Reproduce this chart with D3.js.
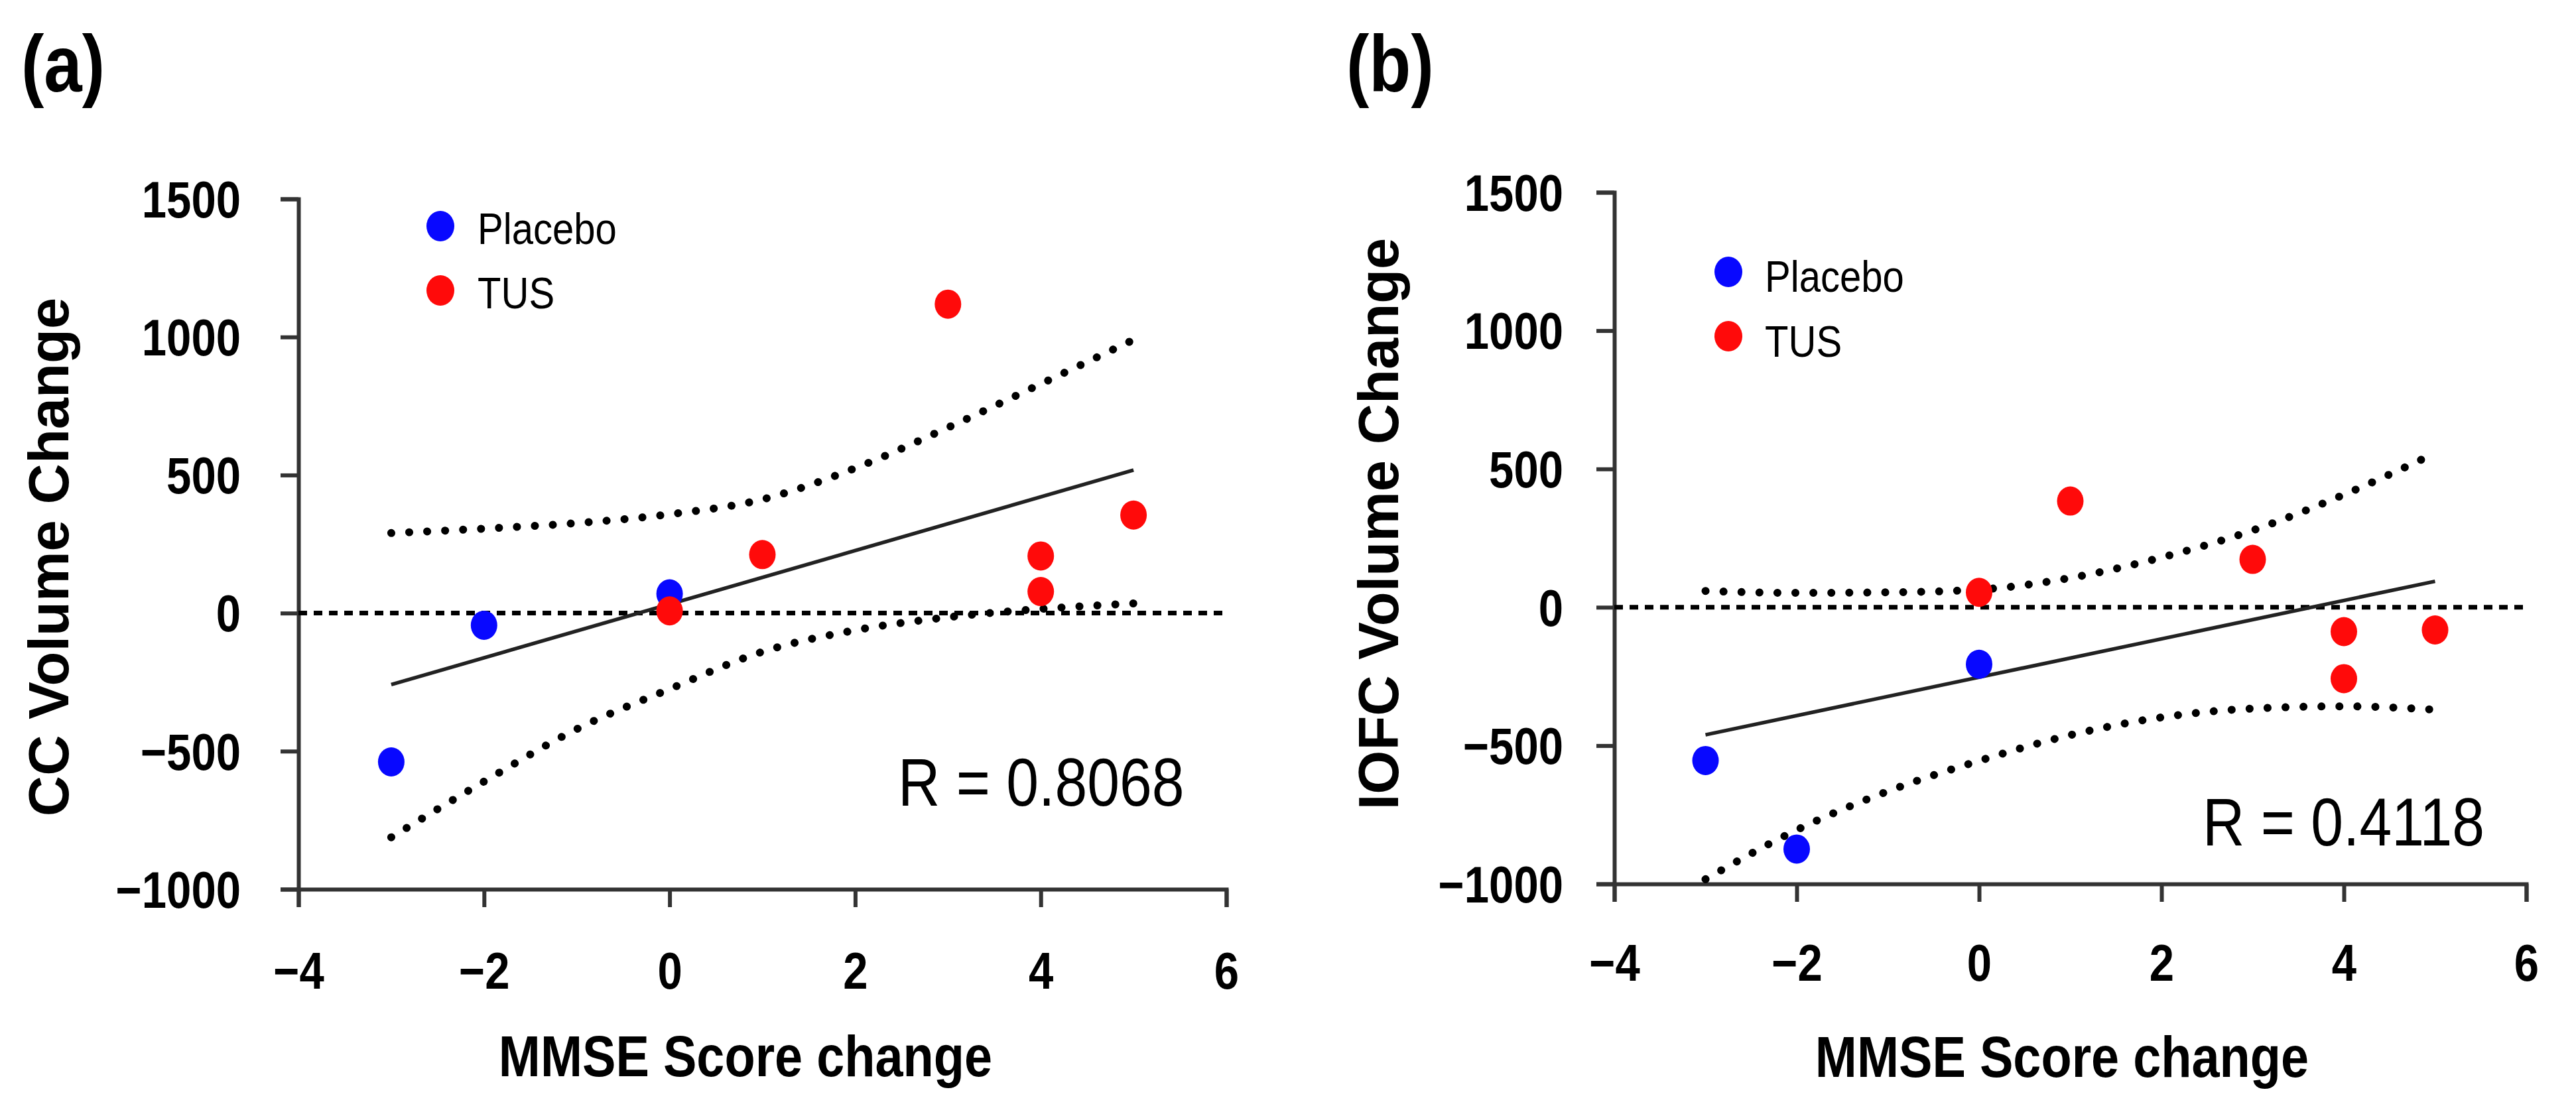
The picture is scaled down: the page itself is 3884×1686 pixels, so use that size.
<!DOCTYPE html>
<html>
<head>
<meta charset="utf-8">
<script src="https://cdn.jsdelivr.net/npm/d3@7"></script>
<style>
  body { margin: 0; background: #fff; }
  svg { display: block; }
</style>
</head>
<body>
<svg id="chart"></svg>
<script>
// shared ticks
const xTicks = [-4, -2, 0, 2, 4, 6];
const yTicks = [-1000, -500, 0, 500, 1000, 1500];
const ciX = [-3, -2, -1, 0, 1, 2, 3, 4, 5];
const groups = ['Placebo', 'TUS'];

// panel (a) CC volume
const placeboA = [[-3, -539], [-2, -44], [0, 70]];
const tusA = [[0, 8], [1, 212], [3, 1119], [4, 207], [4, 78], [5, 355]];
const fitA = [[-3, -259], [5, 518]];
const upperA = [290, 306, 326, 358, 412, 525, 672, 830, 990];
const lowerA = [-812, -610, -420, -275, -140, -62, -15, 15, 35];

// panel (b) IOFC volume
const placeboB = [[-3, -554], [-2, -874], [0, -206]];
const tusB = [[0, 54], [1, 384], [3, 173], [4, -88], [4, -258], [5, -82]];
const fitB = [[-3, -461], [5, 94]];
const upperB = [59, 52, 54, 64, 106, 180, 278, 407, 557];
const lowerB = [-983, -805, -665, -555, -462, -398, -366, -358, -370];

const W = 3884, H = 1686;
const FONT = '"Liberation Sans", Arial, Helvetica, sans-serif';
const squeeze = 0.86;
const colors = { Placebo: '#0808ff', TUS: '#ff0a0a' };

const svg = d3.select('#chart')
  .attr('width', W)
  .attr('height', H)
  .style('background', '#fff');

const panels = [
  { tag: '(a)', yTitle: 'CC Volume Change', rText: 'R = 0.8068',
    placebo: placeboA, tus: tusA, fit: fitA, upper: upperA, lower: lowerA,
    xr: [450, 1849], yr: [1341, 300], yPad: 60, xPad: 67,
    tagPos: [32, 138], yTitlePos: [103, 840], xTitlePos: [1124, 1623],
    legX: 664, legY: [341, 438], legTextX: 720, legBase: [368, 465],
    rPos: [1354, 1215] },
  { tag: '(b)', yTitle: 'IOFC Volume Change', rText: 'R = 0.4118',
    placebo: placeboB, tus: tusB, fit: fitB, upper: upperB, lower: lowerB,
    xr: [2434, 3809], yr: [1333, 290], yPad: 50, xPad: 63,
    tagPos: [2030, 138], yTitlePos: [2108, 790], xTitlePos: [3109, 1624],
    legX: 2606, legY: [410, 507], legTextX: 2661, legBase: [440, 538],
    rPos: [3321, 1275] }
];

// text squeezed horizontally like the source figure
function label(parent, x, y, str, size, weight, anchor, k) {
  return parent.append('text')
    .attr('transform', `translate(${x},${y}) scale(${k || squeeze},1)`)
    .attr('text-anchor', anchor || 'start')
    .style('font-family', FONT)
    .style('font-size', size + 'px')
    .style('font-weight', weight || 'normal')
    .style('fill', '#000')
    .text(str);
}

panels.forEach(function(p){
  const g = svg.append('g');

  const x = d3.scaleLinear().domain([-4, 6]).range(p.xr);
  const y = d3.scaleLinear().domain([-1000, 1500]).range(p.yr);

  // axes
  const yAxis = g.append('g')
    .attr('transform', `translate(${p.xr[0]},0)`)
    .call(d3.axisLeft(y).tickValues(yTicks).tickSize(27).tickFormat(d3.format('d')));

  yAxis.selectAll('text')
    .attr('x', null)
    .attr('dy', '0.35em')
    .attr('transform', `translate(${-(27 + p.yPad)},0) scale(${squeeze},1)`);

  const xAxis = g.append('g')
    .attr('transform', `translate(0,${p.yr[0]})`)
    .call(d3.axisBottom(x).tickValues(xTicks).tickSize(27).tickFormat(d3.format('d')));

  xAxis.selectAll('text')
    .attr('y', null)
    .attr('dy', '0.72em')
    .attr('transform', `translate(0,${27 + p.xPad}) scale(${squeeze},1)`);

  g.selectAll('.domain, .tick line')
    .attr('stroke', '#333')
    .attr('stroke-width', 6);

  g.selectAll('.tick text')
    .style('font-family', FONT)
    .style('font-size', '78px')
    .style('font-weight', 'bold')
    .attr('fill', '#000');

  // zero reference
  g.append('line')
    .attr('x1', x(-4)).attr('x2', x(6))
    .attr('y1', y(0)).attr('y2', y(0))
    .attr('stroke', '#000')
    .attr('stroke-width', 7)
    .attr('stroke-dasharray', '13,10');

  // confidence band, dotted
  const band = d3.line()
    .x(function(d){ return x(d[0]); })
    .y(function(d){ return y(d[1]); })
    .curve(d3.curveMonotoneX);

  [p.upper, p.lower].forEach(function(vals){
    g.append('path')
      .datum(ciX.map(function(v, i){ return [v, vals[i]]; }))
      .attr('d', band)
      .attr('fill', 'none')
      .attr('stroke', '#000')
      .attr('stroke-width', 12)
      .attr('stroke-linecap', 'round')
      .attr('stroke-dasharray', '0.1,27');
  });

  // fit line
  g.append('path')
    .datum(p.fit)
    .attr('d', d3.line().x(function(d){ return x(d[0]); }).y(function(d){ return y(d[1]); }))
    .attr('fill', 'none')
    .attr('stroke', '#222')
    .attr('stroke-width', 5.5);

  // points
  const pts = p.placebo.map(function(d){ return { x: d[0], y: d[1], grp: 'Placebo' }; })
    .concat(p.tus.map(function(d){ return { x: d[0], y: d[1], grp: 'TUS' }; }));

  g.selectAll('.pt')
    .data(pts)
    .join('ellipse')
    .attr('class', 'pt')
    .attr('cx', function(d){ return x(d.x); })
    .attr('cy', function(d){ return y(d.y); })
    .attr('rx', 20)
    .attr('ry', 22)
    .attr('fill', function(d){ return colors[d.grp]; });

  // legend
  groups.forEach(function(name, i){
    g.append('ellipse')
      .attr('cx', p.legX).attr('cy', p.legY[i])
      .attr('rx', 21).attr('ry', 23)
      .attr('fill', colors[name]);
    label(g, p.legTextX, p.legBase[i], name, 66, 'normal', 'start', 0.88);
  });

  // texts
  label(g, p.rPos[0], p.rPos[1], p.rText, 102, 'normal', 'start');
  label(g, p.tagPos[0], p.tagPos[1], p.tag, 120, 'bold', 'start');
  label(g, p.xTitlePos[0], p.xTitlePos[1], 'MMSE Score change', 88, 'bold', 'middle');

  g.append('text')
    .attr('transform', `translate(${p.yTitlePos[0]},${p.yTitlePos[1]}) rotate(-90)`)
    .attr('text-anchor', 'middle')
    .style('font-family', FONT)
    .style('font-size', '85px')
    .style('font-weight', 'bold')
    .text(p.yTitle);
});
</script>
</body>
</html>
